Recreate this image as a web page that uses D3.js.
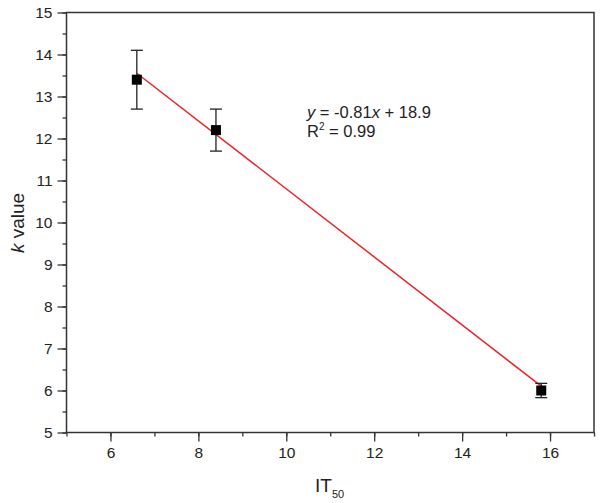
<!DOCTYPE html>
<html>
<head>
<meta charset="utf-8">
<script src="https://cdn.jsdelivr.net/npm/d3@7"></script>
<style>
  body { margin: 0; background: #fff; }
  text { font-family: Arial, "Liberation Sans", sans-serif; fill: #222; }
</style>
</head>
<body>
<script>
// data
var it50 = [6.6, 8.4, 15.8];
var kValue = [13.4, 12.2, 6.0];
var kErr = [0.7, 0.5, 0.17];
var slope = -0.81, intercept = 18.9;
var xTicks = [6, 8, 10, 12, 14, 16];
var yTicks = [5, 6, 7, 8, 9, 10, 11, 12, 13, 14, 15];

var W = 601, H = 503;
var m = {left: 66.5, right: 594, top: 12.5, bottom: 432.5};

var svg = d3.select('body').append('svg')
  .attr('width', W)
  .attr('height', H);

var x = d3.scaleLinear().domain([5, 17]).range([m.left, m.right]);
var y = d3.scaleLinear().domain([5, 15]).range([m.bottom, m.top]);

// minor ticks
var xMinor = d3.range(5, 17.01, 1);
var yMinor = d3.range(5, 15.01, 0.5);

svg.append('g')
  .attr('transform', 'translate(0,' + m.bottom + ')')
  .call(d3.axisBottom(x).tickValues(xMinor).tickSize(4).tickFormat(''))
  .call(function(g){ g.select('.domain').remove(); g.selectAll('line').attr('stroke', '#333').attr('stroke-width', 1.3); });

svg.append('g')
  .attr('transform', 'translate(' + m.left + ',0)')
  .call(d3.axisLeft(y).tickValues(yMinor).tickSize(4).tickFormat(''))
  .call(function(g){ g.select('.domain').remove(); g.selectAll('line').attr('stroke', '#333').attr('stroke-width', 1.3); });

var xAxis = svg.append('g')
  .attr('transform', 'translate(0,' + m.bottom + ')')
  .call(d3.axisBottom(x).tickValues(xTicks).tickSize(9).tickPadding(5).tickFormat(d3.format('d')));
xAxis.select('.domain').remove();
xAxis.selectAll('line').attr('stroke', '#333').attr('stroke-width', 1.3);
xAxis.selectAll('text').style('font-size', '15.5px').attr('fill', '#222');

var yAxis = svg.append('g')
  .attr('transform', 'translate(' + m.left + ',0)')
  .call(d3.axisLeft(y).tickValues(yTicks).tickSize(9).tickPadding(5).tickFormat(d3.format('d')));
yAxis.select('.domain').remove();
yAxis.selectAll('line').attr('stroke', '#333').attr('stroke-width', 1.3);
yAxis.selectAll('text').style('font-size', '15.5px').attr('fill', '#222');

// frame
svg.append('rect')
  .attr('x', m.left).attr('y', m.top)
  .attr('width', m.right - m.left).attr('height', m.bottom - m.top)
  .attr('fill', 'none').attr('stroke', '#333').attr('stroke-width', 1.5);

// fit line
var xs = [it50[0], it50[it50.length - 1]];
svg.append('line')
  .attr('x1', x(xs[0])).attr('y1', y(slope * xs[0] + intercept))
  .attr('x2', x(xs[1])).attr('y2', y(slope * xs[1] + intercept))
  .attr('stroke', '#e8262a').attr('stroke-width', 1.5);

var pts = it50.map(function(d, i){ return {x: d, y: kValue[i], e: kErr[i]}; });

var eb = svg.selectAll('.eb').data(pts).enter().append('g').attr('class', 'eb')
  .attr('stroke', '#222').attr('stroke-width', 1.3);
eb.append('line')
  .attr('x1', function(d){ return x(d.x); }).attr('x2', function(d){ return x(d.x); })
  .attr('y1', function(d){ return y(d.y + d.e); }).attr('y2', function(d){ return y(d.y - d.e); });
eb.append('line')
  .attr('x1', function(d){ return x(d.x) - 6; }).attr('x2', function(d){ return x(d.x) + 6; })
  .attr('y1', function(d){ return y(d.y + d.e); }).attr('y2', function(d){ return y(d.y + d.e); });
eb.append('line')
  .attr('x1', function(d){ return x(d.x) - 6; }).attr('x2', function(d){ return x(d.x) + 6; })
  .attr('y1', function(d){ return y(d.y - d.e); }).attr('y2', function(d){ return y(d.y - d.e); });

svg.selectAll('.pt').data(pts).enter().append('rect').attr('class', 'pt')
  .attr('x', function(d){ return x(d.x) - 5; })
  .attr('y', function(d){ return y(d.y) - 5; })
  .attr('width', 10).attr('height', 10)
  .attr('fill', '#000');

// equation
var eq = svg.append('text').attr('x', 307).attr('y', 118).style('font-size', '16.5px');
eq.append('tspan').style('font-style', 'italic').text('y');
eq.append('tspan').text(' = -0.81');
eq.append('tspan').style('font-style', 'italic').text('x');
eq.append('tspan').text(' + 18.9');

var r2 = svg.append('text').attr('x', 307).attr('y', 137).style('font-size', '16.5px');
r2.append('tspan').text('R');
r2.append('tspan').attr('dy', -7).style('font-size', '10px').text('2');
r2.append('tspan').attr('dy', 7).text(' = 0.99');

// axis titles
var xt = svg.append('text').attr('x', 315).attr('y', 492).style('font-size', '19px');
xt.append('tspan').text('IT');
xt.append('tspan').attr('dy', 6).style('font-size', '11px').text('50');

var yt = svg.append('text')
  .attr('transform', 'translate(24,' + 223 + ') rotate(-90)')
  .attr('text-anchor', 'middle')
  .style('font-size', '19px');
yt.append('tspan').style('font-style', 'italic').text('k');
yt.append('tspan').text(' value');
</script>
</body>
</html>
